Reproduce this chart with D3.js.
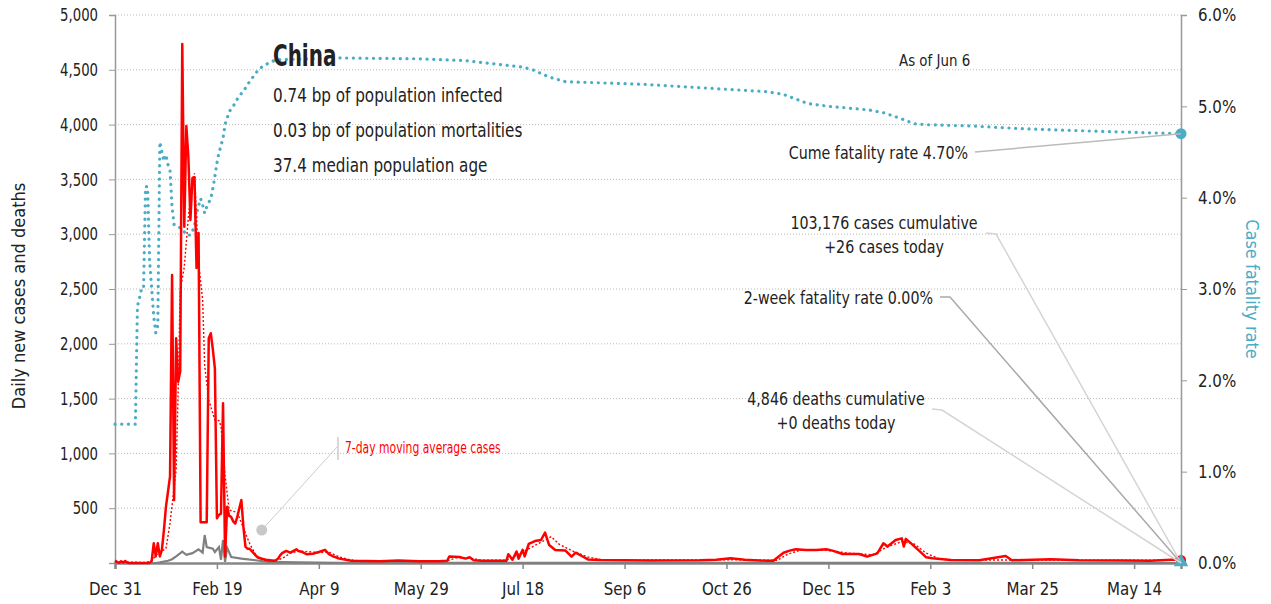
<!DOCTYPE html>
<html lang="en">
<head>
    <meta charset="UTF-8">
    <title>China daily cases</title>
    <script src="https://d3js.org/d3.v7.min.js"></script>
    <style>
        body { margin: 0; background: #fff; }
        svg text { font-family: "DejaVu Sans Condensed", "DejaVu Sans", sans-serif; fill: #222; }
        .grid line { stroke: #bbb; stroke-dasharray: 1,2; }
    </style>
</head>
<body>
<div id="chart"></div>
<script>
    // day offsets counted from Dec 31, 2019
    const startDate = new Date(2019, 11, 31);
    const endDay = 523; // Jun 6, 2021

    const xTickDates = ["2019-12-31", "2020-02-19", "2020-04-09", "2020-05-29", "2020-07-18", "2020-09-06",
        "2020-10-26", "2020-12-15", "2021-02-03", "2021-03-25", "2021-05-14"];
    const xTickLabels = ["Dec 31", "Feb 19", "Apr 9", "May 29", "Jul 18", "Sep 6", "Oct 26", "Dec 15", "Feb 3", "Mar 25", "May 14"];
    const leftTicks = [500, 1000, 1500, 2000, 2500, 3000, 3500, 4000, 4500, 5000];
    const rightTicks = [0, 0.01, 0.02, 0.03, 0.04, 0.05, 0.06];

    // daily new cases [day, value]
    const cases = [[0, 22], [1, 10], [2, 2], [3, 15], [4, 5], [5, 18], [6, 4], [7, 0], [17, 0], [18, 20], [19, 180], [20, 60],
        [21, 180], [22, 60], [23, 120], [24, 300], [25, 514], [26, 650], [27, 790], [28, 2628], [29, 575], [30, 2050],
        [31, 1654], [32, 1750], [33, 4735], [34, 3068], [35, 3987], [36, 3707], [37, 3130], [38, 3513], [39, 3520],
        [40, 2692], [41, 3011], [42, 371], [43, 371], [44, 371], [45, 371], [46, 2050], [47, 2096], [48, 1950],
        [49, 1776], [50, 408], [51, 440], [52, 450], [53, 1457], [54, 60], [55, 514], [56, 430], [57, 420], [58, 380],
        [59, 360], [60, 420], [61, 500], [62, 575], [63, 330], [64, 150], [65, 130], [66, 130], [67, 110], [68, 90],
        [69, 70], [70, 50], [71, 45], [72, 40], [73, 35], [74, 30], [76, 25], [78, 20], [79, 25], [80, 40], [81, 70],
        [82, 90], [84, 110], [86, 95], [89, 125], [90, 110], [92, 100], [94, 80], [97, 85], [100, 100], [103, 120],
        [105, 80], [107, 60], [110, 40], [116, 20], [130, 15], [139, 22], [149, 15], [159, 15], [163, 20], [164, 60],
        [169, 55], [172, 40], [174, 52], [176, 25], [180, 20], [192, 20], [193, 80], [195, 30], [197, 105], [198, 40],
        [200, 120], [201, 60], [203, 175], [206, 200], [209, 210], [211, 277], [213, 164], [216, 119], [221, 113],
        [224, 58], [226, 94], [229, 64], [232, 33], [238, 27], [262, 22], [287, 25], [295, 30], [302, 43], [309, 30],
        [320, 20], [323, 20], [328, 94], [331, 113], [334, 125], [339, 119], [344, 118], [349, 125], [352, 113],
        [357, 82], [365, 82], [369, 58], [374, 88], [377, 180], [379, 150], [383, 210], [386, 225], [387, 150],
        [388, 220], [390, 188], [395, 104], [398, 52], [401, 43], [410, 27], [424, 25], [437, 64], [440, 25],
        [459, 35], [473, 25], [493, 22], [508, 20], [521, 33], [523, 26]];

    // 7-day moving average cases [day, value]
    const casesAvg = [[0, 10], [15, 5], [18, 20], [20, 70], [22, 100], [25, 130], [27, 365], [30, 850], [31, 1580],
        [32, 2490], [34, 2700], [36, 3160], [38, 3495], [39, 3555], [40, 3160], [41, 2737], [43, 2400], [44, 1800],
        [46, 1487], [49, 1305], [51, 1300], [52, 1250], [54, 800], [56, 484], [60, 460], [62, 365], [66, 180],
        [69, 75], [72, 30], [76, 15], [82, 40], [86, 90], [90, 110], [100, 95], [105, 100], [110, 55], [115, 30],
        [120, 20], [163, 20], [168, 50], [174, 45], [180, 25], [192, 25], [196, 60], [200, 100], [205, 150],
        [210, 200], [214, 240], [218, 170], [225, 105], [232, 55], [240, 25], [300, 30], [325, 25], [330, 80],
        [336, 115], [350, 115], [360, 90], [372, 75], [378, 140], [386, 195], [392, 175], [398, 90], [404, 40],
        [412, 27], [523, 26]];

    // daily new deaths [day, value]
    const deaths = [[0, 0], [20, 0], [22, 5], [26, 20], [28, 35], [30, 60], [33, 103], [35, 75], [38, 90], [41, 124],
        [43, 95], [44, 255], [45, 145], [48, 130], [49, 100], [51, 145], [52, 30], [53, 210], [54, 10], [55, 140],
        [57, 55], [62, 40], [69, 25], [75, 10], [90, 5], [110, 2], [523, 0]];

    // cumulative case fatality rate [day, fraction]
    const cfr = [[0, 0.0152], [10, 0.0152], [11, 0.0281], [12, 0.029], [13, 0.030], [14, 0.030], [15, 0.0412],
        [16, 0.0412], [17, 0.033], [18, 0.030], [19, 0.027], [20, 0.0252], [21, 0.026], [22, 0.0461], [23, 0.045],
        [24, 0.044], [25, 0.0447], [26, 0.0436], [27, 0.043], [28, 0.039], [29, 0.037], [31, 0.0368], [33, 0.0366],
        [35, 0.0359], [37, 0.0359], [39, 0.0368], [40, 0.0383], [42, 0.0399], [43, 0.0392], [44, 0.0383],
        [45, 0.0390], [47, 0.0399], [48, 0.0410], [49, 0.0423], [50, 0.0438], [51, 0.0449], [53, 0.0465],
        [54, 0.0480], [56, 0.0494], [58, 0.0500], [60, 0.0508], [62, 0.0514], [64, 0.0520], [66, 0.0527],
        [68, 0.0533], [70, 0.0539], [72, 0.0543], [75, 0.0547], [79, 0.0551], [110, 0.0553], [150, 0.0552],
        [172, 0.0550], [188, 0.0546], [200, 0.0543], [205, 0.0540], [213, 0.0532], [221, 0.0527], [235, 0.0526],
        [260, 0.0524], [290, 0.0520], [320, 0.0516], [328, 0.0513], [340, 0.0503], [350, 0.0500], [360, 0.0498],
        [370, 0.0496], [377, 0.0493], [385, 0.0487], [392, 0.0481], [397, 0.0480], [420, 0.04785], [445, 0.04755],
        [478, 0.0473], [523, 0.0470]];

    const width = 1271, height = 604;
    const margin = {top: 15, right: 90, bottom: 41, left: 115};
    const blue = "#4bacc6", red = "#ff0000";

    const dayDate = d => d3.timeDay.offset(startDate, d);

    const x = d3.scaleTime()
        .domain([startDate, dayDate(endDay)])
        .range([margin.left, width - margin.right]);
    const y = d3.scaleLinear().domain([0, 5000]).range([height - margin.bottom, margin.top]);
    const yR = d3.scaleLinear().domain([0, 0.06]).range([height - margin.bottom, margin.top]);

    const svg = d3.select("#chart").append("svg")
        .attr("width", width)
        .attr("height", height);

    // narrow text: the original uses a condensed face, so squeeze horizontally
    function label(g, px, py, str, size, k, anchor) {
        return g.append("text")
            .attr("transform", `translate(${px},${py}) scale(${k},1)`)
            .attr("text-anchor", anchor || "start")
            .style("font-size", size + "px")
            .text(str);
    }

    // gridlines
    svg.append("g")
        .attr("class", "grid")
        .selectAll("line")
        .data(leftTicks)
        .enter()
        .append("line")
        .attr("x1", margin.left)
        .attr("x2", width - margin.right)
        .attr("y1", d => y(d))
        .attr("y2", d => y(d));

    // left axis
    const kL = 0.82;
    const leftAxis = svg.append("g")
        .attr("transform", `translate(${margin.left},0)`)
        .call(d3.axisLeft(y).tickValues([0].concat(leftTicks)).tickSize(6)
            .tickFormat(d => d === 0 ? "" : d3.format(",")(d)));
    leftAxis.select(".domain").attr("stroke", "#999").attr("stroke-width", 1.5);
    leftAxis.selectAll(".tick line").attr("stroke", "#999");
    leftAxis.selectAll("text").style("font-size", "18px").attr("fill", "#222")
        .attr("x", -17 / kL).attr("transform", `scale(${kL},1)`);

    // right axis
    const kR = 0.93;
    const rightAxis = svg.append("g")
        .attr("transform", `translate(${width - margin.right},0)`)
        .call(d3.axisRight(yR).tickValues(rightTicks).tickSize(6).tickFormat(d3.format(".1%")));
    rightAxis.select(".domain").attr("stroke", "#999").attr("stroke-width", 1.5);
    rightAxis.selectAll(".tick line").attr("stroke", "#999");
    rightAxis.selectAll("text").style("font-size", "18px").attr("fill", blue)
        .attr("x", 17 / kR).attr("transform", `scale(${kR},1)`);

    // bottom axis
    const tickDates = xTickDates.map(s => d3.timeParse("%Y-%m-%d")(s));
    const bottomAxis = svg.append("g")
        .attr("transform", `translate(0,${height - margin.bottom})`)
        .call(d3.axisBottom(x).tickValues(tickDates).tickSize(6).tickPadding(13)
            .tickFormat((d, i) => xTickLabels[i]));
    bottomAxis.select(".domain").attr("stroke", "#888").attr("stroke-width", 2.5);
    bottomAxis.selectAll(".tick line").attr("stroke", "#888").attr("stroke-width", 1.5);
    bottomAxis.selectAll("text").style("font-size", "18px").attr("fill", "#222")
        .attr("transform", "scale(0.93,1)");

    // axis titles
    svg.append("text")
        .attr("transform", `translate(25,${(margin.top + height - margin.bottom) / 2 + 7}) rotate(-90)`)
        .attr("text-anchor", "middle")
        .style("font-size", "18px")
        .text("Daily new cases and deaths");
    svg.append("text")
        .attr("transform", `translate(1246,${(margin.top + height - margin.bottom) / 2}) rotate(90)`)
        .attr("text-anchor", "middle")
        .style("font-size", "18px")
        .style("fill", blue)
        .text("Case fatality rate");

    // series
    const line = d3.line().x(d => x(dayDate(d[0]))).y(d => y(d[1]));
    const lineR = d3.line().x(d => x(dayDate(d[0]))).y(d => yR(d[1]));

    svg.append("path")
        .datum(cfr)
        .attr("d", lineR)
        .attr("fill", "none")
        .attr("stroke", blue)
        .attr("stroke-width", 3.2)
        .attr("stroke-linecap", "round")
        .attr("stroke-dasharray", "0.1,6.6");

    svg.append("path")
        .datum(deaths)
        .attr("d", line)
        .attr("fill", "none")
        .attr("stroke", "#808080")
        .attr("stroke-width", 2.2);

    svg.append("path")
        .datum(cases)
        .attr("d", line)
        .attr("fill", "none")
        .attr("stroke", red)
        .attr("stroke-width", 2.5)
        .attr("stroke-linejoin", "round");

    svg.append("path")
        .datum(casesAvg)
        .attr("d", line)
        .attr("fill", "none")
        .attr("stroke", red)
        .attr("stroke-width", 1.4)
        .attr("stroke-dasharray", "2,2");

    // end markers
    const endX = x(dayDate(endDay));
    const last = cases[cases.length - 1];
    svg.append("circle")
        .attr("cx", endX).attr("cy", y(last[1]))
        .attr("r", 5).attr("fill", red);
    svg.append("path")
        .attr("d", d3.symbol().type(d3.symbolTriangle).size(90))
        .attr("transform", `translate(${endX},${y(0) - 1})`)
        .attr("fill", blue);
    const lastCfr = cfr[cfr.length - 1];
    svg.append("circle")
        .attr("cx", endX).attr("cy", yR(lastCfr[1]))
        .attr("r", 5.5).attr("fill", blue);

    // annotations
    const anno = svg.append("g");
    const kA = 0.88;
    anno.append("line")
        .attr("x1", 975).attr("y1", 152).attr("x2", endX).attr("y2", yR(lastCfr[1]))
        .attr("stroke", "#bbb").attr("stroke-width", 1.5);
    label(anno, 968, 159, "Cume fatality rate 4.70%", 18, kA, "end");

    anno.append("polyline")
        .attr("points", `986,233 996,234 ${endX},${y(0)}`)
        .attr("fill", "none").attr("stroke", "#d4d4d4").attr("stroke-width", 1.5);
    label(anno, 884, 229, "103,176 cases cumulative", 18, kA, "middle");
    label(anno, 884, 253, "+26 cases today", 18, kA, "middle");

    anno.append("polyline")
        .attr("points", `940,297 950,297 ${endX},${y(0)}`)
        .attr("fill", "none").attr("stroke", "#aaa").attr("stroke-width", 1.5);
    label(anno, 933, 304, "2-week fatality rate 0.00%", 18, kA, "end");

    anno.append("polyline")
        .attr("points", `932,409 942,410 ${endX},${y(0)}`)
        .attr("fill", "none").attr("stroke", "#d4d4d4").attr("stroke-width", 1.5);
    label(anno, 836, 405, "4,846 deaths cumulative", 18, kA, "middle");
    label(anno, 836, 429, "+0 deaths today", 18, kA, "middle");

    // moving average label
    const mx = x(dayDate(72)), my = y(300);
    anno.append("line")
        .attr("x1", mx).attr("y1", my).attr("x2", 337).attr("y2", 447)
        .attr("stroke", "#ccc").attr("stroke-width", 1);
    anno.append("line")
        .attr("x1", 338).attr("y1", 437).attr("x2", 338).attr("y2", 460)
        .attr("stroke", "#ccc").attr("stroke-width", 1.5);
    anno.append("circle").attr("cx", mx).attr("cy", my).attr("r", 5.5).attr("fill", "#c8c8c8");
    label(anno, 345, 453, "7-day moving average cases", 15, 0.8).style("fill", red);

    label(anno, 899, 66, "As of Jun 6", 16, 0.93);

    // title block
    label(svg, 273, 66, "China", 30, 0.74).style("font-weight", "bold");
    const info = ["0.74 bp of population infected", "0.03 bp of population mortalities", "37.4 median population age"];
    info.forEach((t, i) => label(svg, 273, 102 + i * 35, t, 20, 0.845));
</script>
</body>
</html>
